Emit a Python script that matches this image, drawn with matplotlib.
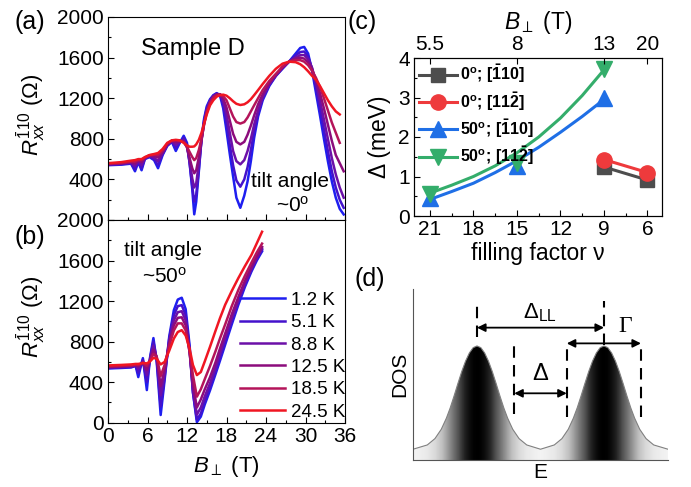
import numpy as np
import matplotlib
matplotlib.use('Agg')
import matplotlib.pyplot as plt
from matplotlib.ticker import MultipleLocator
from matplotlib.patches import Polygon
from matplotlib.lines import Line2D

plt.rcParams['font.family'] = ['Liberation Sans', 'DejaVu Sans']
plt.rcParams['mathtext.fontset'] = 'custom'
plt.rcParams['mathtext.rm'] = 'Liberation Sans'
plt.rcParams['mathtext.it'] = 'Liberation Sans:italic'
plt.rcParams['mathtext.bf'] = 'Liberation Sans:bold'
plt.rcParams['xtick.direction'] = 'in'
plt.rcParams['ytick.direction'] = 'in'

# temperatures (same for a and b)
temps = ['1.2 K', '5.1 K', '8.8 K', '12.5 K', '18.5 K', '24.5 K']
temp_colors = ['#1e1ef0', '#4412cc', '#6c10a8', '#8c0c7c', '#b4145a', '#f01622']

# panel (a): tilt ~0 deg, R_xx vs B_perp
b_a = [0, 2, 3.5, 4.1, 4.6, 5.1, 5.6, 6.3, 7.0, 7.6, 8.3, 9.0,
       9.7, 10.3, 10.9, 11.5, 12.0, 12.4, 12.8, 13.1, 13.4, 13.8, 14.2, 14.6, 15.0,
       15.5, 16.0, 16.5, 17.0, 17.5, 18.0, 18.5, 19.0, 19.5, 20.1, 20.7, 21.2, 21.7, 22.2, 22.8,
       23.5, 24.5, 25.5, 26.5, 27.5, 28.5, 29.2, 29.8, 30.4, 31.0, 31.6, 32.2, 32.8, 33.4, 34.0, 34.6, 35.2, 35.8]
ra_1p2 = [540, 545, 555, 480, 570, 490, 600, 620, 590, 510, 640, 730,
          770, 680, 760, 830, 760, 560, 300, 56, 180, 480, 800, 1000, 1120,
          1190, 1230, 1250, 1230, 1100, 880, 650, 430, 220, 120, 240, 380, 580, 810, 1020,
          1180, 1320, 1420, 1490, 1560, 1640, 1695, 1705, 1640, 1470, 1250, 1030, 800, 580, 380, 220, 110, 55]
ra_5p1 = [545, 550, 560, 500, 575, 510, 605, 625, 600, 540, 650, 735,
          775, 710, 765, 810, 740, 560, 330, 180, 250, 500, 790, 980, 1100,
          1180, 1225, 1245, 1235, 1140, 960, 740, 540, 390, 328, 400, 520, 690, 870, 1050,
          1200, 1330, 1420, 1495, 1560, 1620, 1655, 1660, 1610, 1490, 1300, 1100, 890, 680, 480, 320, 200, 120]
ra_8p8 = [548, 553, 565, 530, 580, 540, 610, 630, 615, 580, 660, 740,
          778, 740, 770, 790, 720, 580, 410, 320, 360, 560, 780, 960, 1080,
          1170, 1220, 1240, 1238, 1175, 1040, 860, 680, 580, 548, 590, 680, 800, 940, 1080,
          1210, 1340, 1425, 1500, 1560, 1600, 1625, 1625, 1585, 1500, 1350, 1180, 990, 800, 610, 450, 320, 220]
ra_12p5 = [550, 557, 570, 555, 585, 570, 612, 635, 630, 615, 670, 745,
           780, 765, 775, 775, 715, 610, 510, 460, 490, 620, 790, 950, 1070,
           1160, 1215, 1235, 1240, 1200, 1110, 980, 850, 770, 745, 770, 840, 930, 1030, 1140,
           1240, 1350, 1430, 1505, 1560, 1590, 1600, 1590, 1555, 1485, 1380, 1250, 1100, 940, 780, 640, 560, 480]
ra_18p5 = [555, 562, 575, 575, 590, 590, 615, 638, 642, 640, 685, 752,
           783, 785, 782, 765, 720, 670, 620, 590, 610, 690, 800, 940, 1060,
           1150, 1205, 1230, 1238, 1220, 1180, 1100, 1020, 965, 950, 965, 1010, 1070, 1130, 1200,
           1280, 1370, 1440, 1510, 1560, 1575, 1575, 1560, 1525, 1470, 1400, 1310, 1200, 1080, 960, 860, 760, np.nan]
ra_24p5 = [560, 570, 585, 590, 600, 600, 620, 640, 650, 660, 700, 760,
           785, 790, 785, 760, 735, 722, 722, 725, 745, 790, 860, 950, 1040,
           1130, 1180, 1215, 1230, 1235, 1225, 1200, 1170, 1145, 1133, 1140, 1160, 1190, 1230, 1280,
           1340, 1420, 1490, 1540, 1560, 1555, 1535, 1505, 1465, 1420, 1380, 1320, 1250, 1180, 1120, 1070, 1040, np.nan]

# panel (b): tilt ~50 deg
b_b = [0, 2, 3.5, 4.2, 4.6, 5.0, 5.3, 5.9, 6.4, 6.9, 7.4, 8.0, 8.6, 9.3, 10.0, 10.6, 11.2,
       11.8, 12.4, 12.9, 13.5, 14.1, 14.7, 15.5, 16.3, 17.0, 17.8, 18.8, 19.8, 20.8, 21.8, 22.6, 23.4]
rb_1p2 = [535, 540, 545, 560, 450, 560, 637, 322, 650, 835, 600, 76, 420, 850, 1110, 1215, 1233,
          1120, 760, 300, 5, 60, 180, 320, 473, 610, 770, 970, 1164, 1340, 1493, 1600, 1690]
rb_5p1 = [540, 545, 550, 562, 490, 570, 620, 400, 640, 800, 620, 160, 450, 830, 1060, 1150, 1160,
          1060, 720, 300, 30, 90, 210, 350, 500, 640, 800, 1000, 1190, 1360, 1510, 1615, 1705]
rb_8p8 = [545, 550, 555, 565, 530, 575, 605, 470, 630, 760, 640, 270, 490, 800, 1010, 1090, 1100,
          1010, 700, 330, 80, 150, 260, 390, 540, 680, 840, 1030, 1210, 1380, 1520, 1630, 1720]
rb_12p5 = [550, 555, 560, 568, 555, 578, 595, 520, 620, 720, 650, 360, 530, 780, 960, 1035, 1040,
           960, 690, 380, 150, 230, 330, 450, 590, 730, 880, 1070, 1240, 1400, 1540, 1640, 1735]
rb_18p5 = [555, 560, 565, 572, 570, 580, 590, 560, 615, 680, 650, 460, 570, 760, 910, 980, 980,
           910, 700, 470, 257, 330, 430, 560, 700, 830, 970, 1150, 1310, 1450, 1580, 1680, 1767]
rb_24p5 = [565, 570, 575, 580, 580, 585, 590, 585, 605, 640, 630, 575, 600, 710, 830, 895, 913,
           860, 730, 570, 470, 500, 605, 750, 901, 1030, 1164, 1300, 1427, 1545, 1657, 1770, 1884]

ra_all = [ra_1p2, ra_5p1, ra_8p8, ra_12p5, ra_18p5, ra_24p5]
rb_all = [rb_1p2, rb_5p1, rb_8p8, rb_12p5, rb_18p5, rb_24p5]

# panel (c): activation gaps
nu_0deg = [9, 6]
gap_0_110 = [1.24, 0.91]
gap_0_112 = [1.43, 1.10]
nu_50deg = [21, 15, 9]
gap_50_110 = [0.45, 1.27, 3.0]
gap_50_112 = [0.55, 1.33, 3.73]
nu_fit = [21, 19.5, 18, 16.5, 15, 13.5, 12, 10.5, 9]
fit_50_110 = [0.42, 0.62, 0.83, 1.1, 1.4, 1.74, 2.12, 2.52, 2.95]
fit_50_112 = [0.58, 0.78, 1.0, 1.27, 1.6, 2.0, 2.48, 3.05, 3.7]
top_nu = [21, 15, 9, 6]
top_b = ['5.5', '8', '13', '20']

# panel (d): DOS sketch (E and DOS in arbitrary units)
dos_e = [0, 0.56, 0.86, 1.11, 1.31, 1.46, 1.61, 1.76, 1.91, 2.06, 2.21, 2.36, 2.51,
         2.66, 2.81, 2.96, 3.11, 3.26, 3.41, 3.56, 3.71, 3.91, 4.16, 4.46, 5.0,
         5.54, 5.84, 6.09, 6.29, 6.44, 6.59, 6.74, 6.89, 7.04, 7.19, 7.34, 7.49,
         7.64, 7.79, 7.94, 8.09, 8.24, 8.39, 8.54, 8.69, 8.89, 9.14, 9.44, 10.0]
dos_v = [0.063, 0.088, 0.125, 0.180, 0.245, 0.305, 0.374, 0.447, 0.517, 0.578, 0.626, 0.657, 0.667,
         0.657, 0.626, 0.578, 0.517, 0.447, 0.374, 0.305, 0.245, 0.180, 0.125, 0.088, 0.063,
         0.088, 0.125, 0.180, 0.245, 0.305, 0.374, 0.447, 0.517, 0.578, 0.626, 0.657, 0.667,
         0.657, 0.626, 0.578, 0.517, 0.447, 0.374, 0.305, 0.245, 0.180, 0.125, 0.088, 0.063]

W, H = 691, 487
fig = plt.figure(figsize=(W / 100, H / 100), dpi=100)


def box(l, t, r, b):
    return [l / W, 1 - b / H, (r - l) / W, (b - t) / H]


def style_rb(ax):
    ax.set_xlim(0, 36)
    ax.set_ylim(0, 2000)
    ax.xaxis.set_major_locator(MultipleLocator(6))
    ax.xaxis.set_minor_locator(MultipleLocator(3))
    ax.set_yticks(np.arange(0, 2001, 400))
    ax.yaxis.set_minor_locator(MultipleLocator(200))
    ax.tick_params(which='major', length=4, width=0.8, labelsize=15, pad=3)
    ax.tick_params(which='minor', length=2, width=0.8)
    ax.set_ylabel(r'$R_{xx}^{\bar{1}10}$ (Ω)', fontsize=16)
    ax.yaxis.set_label_coords(-0.255, 0.52)


# (a)
ax_a = fig.add_axes(box(108, 17, 345, 220))
for r, c in zip(ra_all, temp_colors):
    ax_a.plot(b_a, r, color=c, lw=1.8)
style_rb(ax_a)
ax_a.set_yticklabels([''] + [str(v) for v in range(400, 2001, 400)])
ax_a.tick_params(labelbottom=False)
ax_a.text(0.36, 0.84, 'Sample D', transform=ax_a.transAxes, fontsize=17, ha='center', va='center')
ax_a.text(0.77, 0.19, 'tilt angle', transform=ax_a.transAxes, fontsize=15, ha='center', va='center')
ax_a.text(0.78, 0.07, r'~0$^\mathregular{o}$', transform=ax_a.transAxes, fontsize=15, ha='center', va='center')

# (b)
ax_b = fig.add_axes(box(108, 220, 345, 422.7))
for r, c, t in zip(rb_all, temp_colors, temps):
    ax_b.plot(b_b, r, color=c, lw=1.8, label=t)
style_rb(ax_b)
ax_b.set_xlabel(r'$B_\perp$ (T)', fontsize=16, labelpad=6)
ax_b.text(0.23, 0.85, 'tilt angle', transform=ax_b.transAxes, fontsize=15, ha='center', va='center')
ax_b.text(0.24, 0.72, r'~50$^\mathregular{o}$', transform=ax_b.transAxes, fontsize=15, ha='center', va='center')
ax_b.legend(loc='upper right', bbox_to_anchor=(1.01, 0.655), frameon=False, fontsize=13.5,
            handlelength=2.4, handletextpad=0.35, labelspacing=0.28, borderaxespad=0, borderpad=0.1)

# (c)
ax_c = fig.add_axes(box(414, 58, 662, 216))
ax_c.plot(nu_0deg, gap_0_110, color='#4d4d4d', lw=2.2, marker='s', ms=10)
ax_c.plot(nu_0deg, gap_0_112, color='#ee3a3c', lw=2.2, marker='o', ms=11)
ax_c.plot(nu_fit, fit_50_110, color='#1f6fe6', lw=2.2)
ax_c.plot(nu_fit, fit_50_112, color='#34ad6b', lw=2.2)
ax_c.plot(nu_50deg, gap_50_110, ls='none', color='#1f6fe6', marker='^', ms=12)
ax_c.plot(nu_50deg, gap_50_112, ls='none', color='#34ad6b', marker='v', ms=12)
ax_c.set_xlim(22.1, 5.0)
ax_c.set_ylim(0, 4)
ax_c.xaxis.set_major_locator(MultipleLocator(3))
ax_c.xaxis.set_minor_locator(MultipleLocator(1.5))
ax_c.yaxis.set_major_locator(MultipleLocator(1))
ax_c.yaxis.set_minor_locator(MultipleLocator(0.5))
ax_c.tick_params(which='major', length=4, width=0.8, labelsize=15, pad=3)
ax_c.tick_params(which='minor', length=2, width=0.8)
ax_c.set_xlabel('filling factor ν', fontsize=16.5, labelpad=2)
ax_c.set_ylabel('Δ (meV)', fontsize=16.5, labelpad=5)
handles = [
    Line2D([], [], color='#4d4d4d', lw=2.2, marker='s', ms=10),
    Line2D([], [], color='#ee3a3c', lw=2.2, marker='o', ms=11),
    Line2D([], [], color='#1f6fe6', lw=2.2, marker='^', ms=12),
    Line2D([], [], color='#34ad6b', lw=2.2, marker='v', ms=12),
]
labels = [r'0$^\mathbf{o}$; [$\mathbf{\bar{1}}$10]', r'0$^\mathbf{o}$; [11$\mathbf{\bar{2}}$]',
          r'50$^\mathbf{o}$; [$\mathbf{\bar{1}}$10]', r'50$^\mathbf{o}$; [11$\mathbf{\bar{2}}$]']
ax_c.legend(handles, labels, loc='upper left', frameon=False, prop={'weight': 'bold', 'size': 11.5},
            handlelength=2.4, handletextpad=0.2, labelspacing=0.3, borderaxespad=0.1, borderpad=0.2)
ax_t = ax_c.twiny()
ax_t.set_xlim(ax_c.get_xlim())
ax_t.set_xticks(top_nu)
ax_t.set_xticklabels(top_b)
ax_t.tick_params(labelsize=15, length=4, width=0.8, pad=3)
ax_t.set_xlabel(r'$B_\perp$ (T)', fontsize=16.5, labelpad=4)

# (d) DOS sketch
ax_d = fig.add_axes(box(413, 289, 668, 460))
ax_d.set_xlim(0, 10)
ax_d.set_ylim(0, 1)
pts = np.column_stack([dos_e + [10, 0], dos_v + [0, 0]])
shape = Polygon(pts, closed=True, facecolor='none', edgecolor='none')
ax_d.add_patch(shape)
xs = np.linspace(0, 10, 600)
lev = np.clip((np.interp(xs, dos_e, dos_v) - 0.04) / 0.627, 0, 1) ** 0.7
im = ax_d.imshow(lev[None, :], cmap='Greys', vmin=0, vmax=1, extent=[0, 10, 0, 1], aspect='auto')
im.set_clip_path(shape)
ax_d.plot(dos_e, dos_v, color='#808080', lw=0.8)
for s in ['top', 'right']:
    ax_d.spines[s].set_visible(False)
for s in ['left', 'bottom']:
    ax_d.spines[s].set_color('#555555')
    ax_d.spines[s].set_linewidth(0.8)
ax_d.set_xticks([])
ax_d.set_yticks([])
ax_d.set_xlabel('E', fontsize=15, labelpad=2)
ax_d.set_ylabel('DOS', fontsize=15, labelpad=3)
dash = dict(color='black', lw=1.5, ls=(0, (5.5, 3.5)))
ax_d.plot([2.51, 2.51], [0.72, 0.93], **dash)
ax_d.plot([7.49, 7.49], [0.67, 0.93], **dash)
ax_d.plot([3.97, 3.97], [0.27, 0.69], **dash)
ax_d.plot([6.03, 6.03], [0.25, 0.69], **dash)
ax_d.plot([8.94, 8.94], [0.25, 0.69], **dash)
arw = dict(arrowstyle='<|-|>', color='black', lw=1.3, mutation_scale=12, shrinkA=0, shrinkB=0)
ax_d.annotate('', xy=(2.51, 0.774), xytext=(7.49, 0.774), arrowprops=arw)
ax_d.annotate('', xy=(6.03, 0.682), xytext=(8.94, 0.682), arrowprops=arw)
ax_d.annotate('', xy=(3.97, 0.39), xytext=(6.03, 0.39), arrowprops=arw)
ax_d.text(4.98, 0.86, r'$\Delta_\mathregular{LL}$', fontsize=16, ha='center', va='center')
ax_d.text(8.31, 0.78, 'Γ', fontsize=17, ha='center', va='center', family='Liberation Serif')
ax_d.text(4.98, 0.50, 'Δ', fontsize=17, ha='center', va='center')

# panel letters
fig.text(30 / W, 1 - 22 / H, '(a)', fontsize=18, ha='center', va='center')
fig.text(30 / W, 1 - 237 / H, '(b)', fontsize=18, ha='center', va='center')
fig.text(362 / W, 1 - 22 / H, '(c)', fontsize=18, ha='center', va='center')
fig.text(370 / W, 1 - 279 / H, '(d)', fontsize=18, ha='center', va='center')

fig.savefig('out.png', dpi=100)
